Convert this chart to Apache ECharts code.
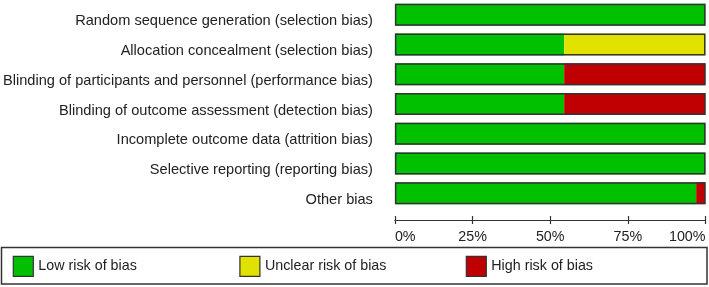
<!DOCTYPE html>
<html><head><meta charset="utf-8">
<script src="https://cdn.jsdelivr.net/npm/echarts@6/dist/echarts.min.js"></script>
<style>html,body{margin:0;padding:0;background:#fff}#c{width:709px;height:287px}</style>
</head><body><div id="c"></div>
<script>
var categories = [
  'Random sequence generation (selection bias)',
  'Allocation concealment (selection bias)',
  'Blinding of participants and personnel (performance bias)',
  'Blinding of outcome assessment (detection bias)',
  'Incomplete outcome data (attrition bias)',
  'Selective reporting (reporting bias)',
  'Other bias'
];
var lowRisk     = [100, 54.5, 54.5, 54.5, 100, 100, 97];
var unclearRisk = [0, 45.5, 0, 0, 0, 0, 0];
var highRisk    = [0, 0, 45.5, 45.5, 0, 0, 3];
var totals      = [100, 100, 100, 100, 100, 100, 100];
var tickLabels  = ['0%', '25%', '50%', '75%', '100%'];
var seriesNames = ['Low risk of bias', 'Unclear risk of bias', 'High risk of bias'];
var colors = ['#00c000', '#e2e200', '#c00000'];

var font = '"Liberation Sans", Arial, sans-serif';
var chart = echarts.init(document.getElementById('c'));
function legendAt(i, left) {
  return {
    left: left, top: 255.7, orient: 'horizontal', padding: 0,
    itemWidth: 20, itemHeight: 20, icon: 'rect', selectedMode: false,
    textStyle: { fontFamily: font, fontSize: 14.3, color: '#222', padding: [6, 0, 0, 0] },
    data: [{ name: seriesNames[i], itemStyle: { color: colors[i], borderColor: '#333', borderWidth: 1.2 } }]
  };
}
var xBase = {
  type: 'value', min: 0, max: 100, interval: 25, position: 'bottom', offset: 12,
  splitLine: { show: false }
};
chart.setOption({
  animation: false,
  grid: { left: 393.5, right: 3.5, top: -2, height: 210, containLabel: false },
  legend: [legendAt(0, 12.7), legendAt(1, 239.3), legendAt(2, 465.7)],
  graphic: [{
    type: 'rect', shape: { x: 1.5, y: 247.5, width: 705.5, height: 36.5 },
    style: { fill: 'none', stroke: '#333', lineWidth: 1.5 }, silent: true
  }],
  xAxis: [
    Object.assign({}, xBase, {
      axisLine: { show: true, lineStyle: { color: '#333', width: 1.2 } },
      axisTick: { show: true, length: 4, lineStyle: { color: '#333', width: 1.2 } },
      axisLabel: {
        margin: 10, fontFamily: font, fontSize: 14.3, color: '#222',
        alignMinLabel: 'left', alignMaxLabel: 'right',
        formatter: function (v) { return tickLabels[Math.round(v / 25)]; }
      }
    }),
    Object.assign({}, xBase, {
      axisLine: { show: false },
      axisTick: { show: true, inside: true, length: 4, lineStyle: { color: '#333', width: 1.2 } },
      axisLabel: { show: false }
    })
  ],
  yAxis: {
    type: 'category', data: categories, inverse: true,
    axisLine: { show: false }, axisTick: { show: false },
    axisLabel: { margin: 22, fontFamily: font, fontSize: 14.6, color: '#222',
      verticalAlign: 'top', lineHeight: 13 }
  },
  series: [
    { name: seriesNames[0], type: 'bar', stack: 'risk', barWidth: 22, data: lowRisk, itemStyle: { color: colors[0] } },
    { name: seriesNames[1], type: 'bar', stack: 'risk', barWidth: 22, data: unclearRisk, itemStyle: { color: colors[1] } },
    { name: seriesNames[2], type: 'bar', stack: 'risk', barWidth: 22, data: highRisk, itemStyle: { color: colors[2] } },
    { name: 'outline', type: 'bar', barWidth: 22, barGap: '-100%', data: totals, silent: true, z: 5,
      itemStyle: { color: 'rgba(0,0,0,0)', borderColor: '#333', borderWidth: 1.5 } }
  ]
});
</script></body></html>
